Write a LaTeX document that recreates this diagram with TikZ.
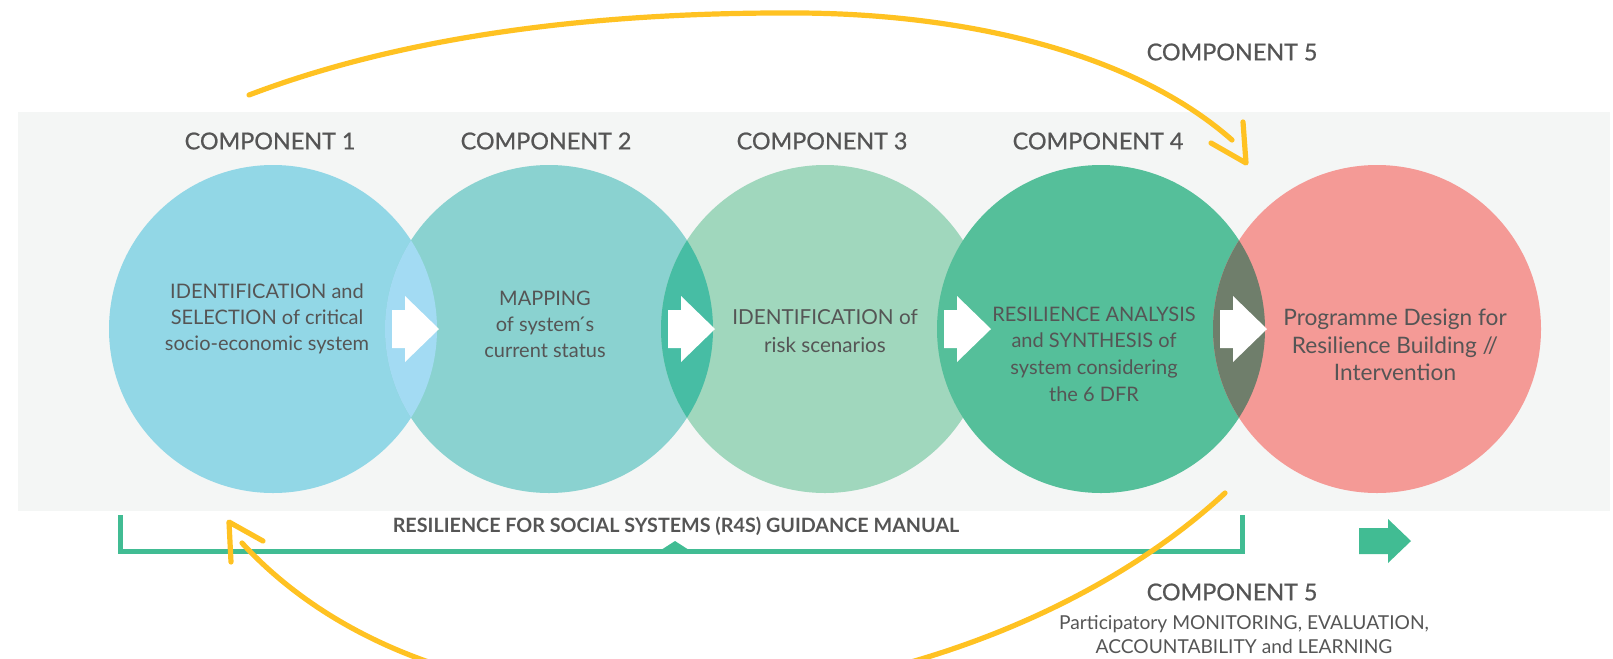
\documentclass[tikz,border=0pt]{standalone}
\usepackage{fontspec}
\setmainfont{Lato}
\newfontfamily\labelfont[FakeBold=0.6]{Lato}
\usepackage{xcolor}
\usepackage{tikz}
\usetikzlibrary{positioning}

\definecolor{panelgray}{HTML}{F4F6F5}
\definecolor{textgray}{HTML}{555555}
\definecolor{compone}{HTML}{92D7E6}
\definecolor{comptwo}{HTML}{8AD2D0}
\definecolor{compthree}{HTML}{A0D7BD}
\definecolor{compfour}{HTML}{55BF9A}
\definecolor{compfive}{HTML}{F49A96}
\definecolor{lensone}{HTML}{A3DBF3}
\definecolor{lenstwo}{HTML}{47BDA4}
\definecolor{lensfour}{HTML}{6F7E6B}
\definecolor{manualgreen}{HTML}{41BC93}
\definecolor{loopyellow}{HTML}{FFC222}

\begin{document}
\begin{tikzpicture}[x=0.75pt,y=0.75pt,yscale=-1,xscale=1,
    complabel/.style={inner sep=0pt,text=textgray,font=\labelfont\fontsize{17.5}{21}\selectfont},
    bodytext/.style={inner sep=0pt,text=textgray,align=center,font=\fontsize{15}{19.5}\selectfont},
    loopline/.style={draw=loopyellow,line width=3.9pt,line cap=round,line join=round}]
\useasboundingbox (0,0) rectangle (1613,658);
\clip (0,0) rectangle (1613,658);

%Shape: Panel [id:panel]
\fill[panelgray] (18,112) rectangle (1610,511);

%Shape: Circles
\fill[compone] (273,329) circle (164);
\fill[comptwo] (549,329) circle (164);
\fill[compthree] (825,329) circle (164);
\fill[compfour] (1101,329) circle (164);
\fill[compfive] (1377,329) circle (164);

%Shape: Overlaps
\begin{scope}
  \clip (273,329) circle (164);
  \fill[lensone] (549,329) circle (164);
\end{scope}
\begin{scope}
  \clip (549,329) circle (164);
  \fill[lenstwo] (825,329) circle (164);
\end{scope}
\begin{scope}
  \clip (1101,329) circle (164);
  \fill[lensfour] (1377,329) circle (164);
\end{scope}

%Shape: Block arrows
\fill[white,shift={(411,329)}] (-19,-19) -- (-6,-19) -- (-6,-33) -- (28,0) -- (-6,33) -- (-6,19) -- (-19,19) -- cycle;
\fill[white,shift={(687,329)}] (-19,-19) -- (-6,-19) -- (-6,-33) -- (28,0) -- (-6,33) -- (-6,19) -- (-19,19) -- cycle;
\fill[white,shift={(963,329)}] (-19,-19) -- (-6,-19) -- (-6,-33) -- (28,0) -- (-6,33) -- (-6,19) -- (-19,19) -- cycle;
\fill[white,shift={(1239,329)}] (-19,-19) -- (-6,-19) -- (-6,-33) -- (28,0) -- (-6,33) -- (-6,19) -- (-19,19) -- cycle;

%Straight Lines: Manual bracket
\coordinate (brackl) at (120,515);
\coordinate (brackr) at (1242,515);
\draw[manualgreen,line width=3.75pt] (brackl) -- (120,551.5) -- (1242,551.5) -- (brackr);
\fill[manualgreen] (661,550) -- (675,541) -- (689,550) -- cycle;

%Shape: Green arrow
\fill[manualgreen] (1359,528) -- (1388,528) -- (1388,519) -- (1411,541) -- (1388,563) -- (1388,554) -- (1359,554) -- cycle;

%Curve Lines: Feedback loops
\coordinate (topstart) at (249,95);
\coordinate (topend) at (1232,140);
\draw[loopline] (topstart) .. controls (420,30) and (620,12) .. (800,13) .. controls (960,14) and (1130,50) .. (topend);
\draw[loopline] (1243,122) -- (1246,163) -- (1211,143);
\coordinate (botstart) at (1225,493);
\coordinate (botend) at (242,543);
\draw[loopline] (botstart) .. controls (980,720) and (470,790) .. (botend);
\draw[loopline] (231,562) -- (229,522) -- (263,541);

% Text Node
\node[complabel] (compa) at (270,141) {COMPONENT 1};
% Text Node
\node[complabel] (compb) at (546,141) {COMPONENT 2};
% Text Node
\node[complabel] (compc) at (822,141) {COMPONENT 3};
% Text Node
\node[complabel] (compd) at (1098,141) {COMPONENT 4};
% Text Node
\node[complabel] (competop) at (1232,52) {COMPONENT 5};
% Text Node
\node[complabel] (compebot) at (1232,592) {COMPONENT 5};
% Text Node
\node[bodytext,font=\fontsize{14.4}{18}\selectfont] (monitor) at (1244,635) {Participatory MONITORING, EVALUATION,\\ACCOUNTABILITY and LEARNING};
% Text Node
\node[inner sep=0pt,text=textgray,font=\fontsize{14.8}{17}\selectfont\bfseries] (manual) at (676,526) {RESILIENCE FOR SOCIAL SYSTEMS (R4S) GUIDANCE MANUAL};
% Text Node
\node[bodytext] (txta) at (267,319) {IDENTIFICATION and\\SELECTION of critical\\socio-economic system};
% Text Node
\node[bodytext] (txtb) at (545,324) {MAPPING\\of system\'{}s\\current status};
% Text Node
\node[bodytext,font=\fontsize{15.5}{21.5}\selectfont] (txtc) at (825,331) {IDENTIFICATION of\\risk scenarios};
% Text Node
\node[bodytext,font=\fontsize{15}{20}\selectfont] (txtd) at (1094,354) {RESILIENCE ANALYSIS\\and SYNTHESIS of\\system considering\\the 6 DFR};
% Text Node
\node[bodytext,font=\fontsize{17}{20.6}\selectfont] (txte) at (1395,345) {Programme Design for\\Resilience Building //\\Intervention};

\end{tikzpicture}
\end{document}
